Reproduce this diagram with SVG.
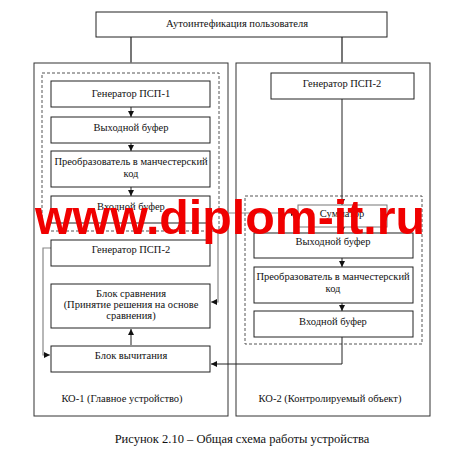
<svg xmlns="http://www.w3.org/2000/svg" width="451" height="460" viewBox="0 0 451 460">
<style>
.b{fill:#fff;stroke:#222;stroke-width:1}
.o{fill:none;stroke:#333;stroke-width:1}
.d{fill:none;stroke:#555;stroke-width:1;stroke-dasharray:3,2}
.t{font-family:"Liberation Serif","Times New Roman",serif;font-size:10.5px;fill:#111;text-anchor:middle}
.c{fill:none;stroke:#222;stroke-width:1}
.g{fill:none;stroke:#888;stroke-width:1.2}
.w{font-family:"Liberation Sans",Arial,sans-serif;font-weight:bold;font-size:48px;fill:#f00000}
</style>
<defs>
<marker id="a" viewBox="0 0 6 6" refX="6" refY="3" markerWidth="6" markerHeight="6" orient="auto" markerUnits="userSpaceOnUse">
<path d="M0,0L6,3L0,6z" fill="#111"/>
</marker>
</defs>
<rect width="451" height="460" fill="#fff"/>
<g id="ko1"><rect class="o" x="34" y="63" width="194" height="353"/><text class="t" x="122" y="402">КО-1 (Главное устройство)</text></g>
<g id="ko2"><rect class="o" x="236" y="63" width="194" height="353"/><text class="t" x="330" y="402">КО-2 (Контролируемый объект)</text></g>
<g id="dash1"><rect class="d" x="42" y="73" width="177" height="158"/></g>
<g id="dash2"><rect class="d" x="245" y="196" width="177" height="148"/></g>
<g id="connectors">
<path d="M131,37V63M342,37V63" stroke="#777" stroke-width="2" fill="none"/>
<path class="c" d="M131,107V117" marker-end="url(#a)"/>
<path class="c" d="M131,143V151" marker-end="url(#a)"/>
<path class="c" d="M131,187V196" marker-end="url(#a)"/>
<path class="c" d="M131,345V329" stroke-width="1.5" marker-end="url(#a)"/>
<path class="g" d="M51,248H43V355H50" marker-end="url(#a)"/>
<path class="g" d="M218,231V302H211" marker-end="url(#a)"/>
<path class="g" d="M219,213H297" marker-end="url(#a)"/>
<path class="c" d="M342,99V205" marker-end="url(#a)"/>
<path class="c" d="M342,227V233" marker-end="url(#a)"/>
<path class="c" d="M342,258V267" marker-end="url(#a)"/>
<path class="c" d="M342,303V311" marker-end="url(#a)"/>
<path class="c" d="M342,337V364H211" marker-end="url(#a)"/>
</g>
<g id="auth"><rect class="b" x="96" y="12" width="291" height="25"/><text class="t" x="237" y="27">Аутоинтефикация пользователя</text></g>
<g id="gen1"><rect class="b" x="51" y="81" width="159" height="26"/><text class="t" x="131" y="97">Генератор ПСП-1</text></g>
<g id="out1"><rect class="b" x="51" y="117" width="159" height="26"/><text class="t" x="131" y="131">Выходной буфер</text></g>
<g id="conv1"><rect class="b" x="51" y="151" width="159" height="36"/><text class="t" x="131" y="165">Преобразователь в манчестерский</text><text class="t" x="131" y="177">код</text></g>
<g id="in1"><rect class="b" x="51" y="196" width="159" height="27"/><text class="t" x="131" y="210">Входной буфер</text></g>
<g id="gen2l"><rect class="b" x="51" y="240" width="159" height="26"/><text class="t" x="131" y="253">Генератор ПСП-2</text></g>
<g id="cmp"><rect class="b" x="51" y="284" width="159" height="44"/><text class="t" x="131" y="297">Блок сравнения</text><text class="t" x="131" y="308">(Принятие решения на основе</text><text class="t" x="131" y="319">сравнения)</text></g>
<g id="sub"><rect class="b" x="51" y="346" width="159" height="26"/><text class="t" x="131" y="359">Блок вычитания</text></g>
<g id="gen2r"><rect class="b" x="271" y="73" width="143" height="26"/><text class="t" x="342" y="87">Генератор ПСП-2</text></g>
<g id="sum"><rect x="298" y="205" width="89" height="22" fill="#fff" stroke="#777"/><text class="t" x="342" y="217">Сумматор</text></g>
<g id="out2"><rect class="b" x="254" y="233" width="159" height="25"/><text class="t" x="333" y="245">Выходной буфер</text></g>
<g id="conv2"><rect class="b" x="254" y="267" width="159" height="36"/><text class="t" x="333" y="280">Преобразователь в манчестерский</text><text class="t" x="333" y="292">код</text></g>
<g id="in2"><rect class="b" x="254" y="311" width="159" height="26"/><text class="t" x="333" y="325">Входной буфер</text></g>
<text class="t" x="242" y="443" style="font-size:12.5px">Рисунок 2.10 – Общая схема работы устройства</text>
<text class="w" x="35" y="234" textLength="390" lengthAdjust="spacingAndGlyphs">www.diplom-it.ru</text>
</svg>
